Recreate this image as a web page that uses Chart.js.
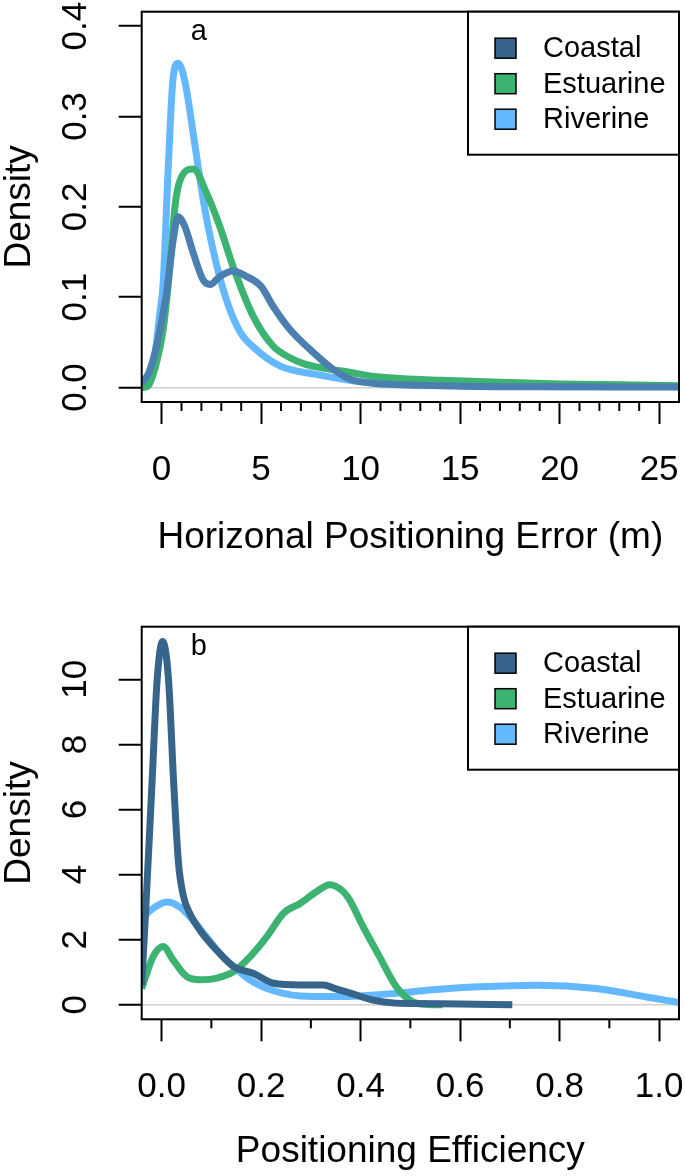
<!DOCTYPE html>
<html>
<head>
<meta charset="utf-8">
<script src="https://cdn.jsdelivr.net/npm/chart.js@4.4.1/dist/chart.umd.min.js"></script>
<style>
  body { margin: 0; background: #fff; }
  .panel { position: absolute; left: 0; }
</style>
</head>
<body>
<div class="panel" style="top:0"><canvas id="chartA" width="685" height="590"></canvas></div>
<div class="panel" style="top:590px"><canvas id="chartB" width="685" height="586"></canvas></div>
<script>
// panel a : horizontal positioning error (m)
var coastalErrX = [-1.0, -0.67, -0.4, -0.1, 0.25, 0.58, 0.83, 1.17, 1.59, 2.09, 2.43, 2.93, 3.59, 4.26, 5.0, 5.6, 6.44, 7.44, 8.6, 9.45, 10.5, 12, 14, 17, 20, 23, 26];
var coastalErrY = [0.005, 0.015, 0.033, 0.062, 0.105, 0.163, 0.189, 0.178, 0.149, 0.119, 0.114, 0.123, 0.129, 0.123, 0.112, 0.09, 0.0645, 0.0425, 0.0205, 0.0095, 0.005, 0.003, 0.002, 0.001, 0.001, 0.0005, 0.0005];
var estuarineErrX = [-1.0, -0.67, -0.25, 0.08, 0.42, 0.67, 0.92, 1.59, 2.26, 2.93, 3.59, 4.6, 5.6, 6.45, 7.2, 8.28, 9.45, 10.6, 12, 14, 17, 20, 23, 26];
var estuarineErrY = [0.0, 0.002, 0.028, 0.064, 0.134, 0.2, 0.229, 0.242, 0.215, 0.178, 0.134, 0.079, 0.046, 0.033, 0.026, 0.021, 0.017, 0.0125, 0.01, 0.008, 0.006, 0.004, 0.003, 0.002];
var riverineErrX = [-1.0, -0.7, -0.41, -0.1, 0.08, 0.33, 0.58, 0.83, 1.17, 1.59, 2.09, 2.59, 3.26, 3.93, 4.6, 5.94, 7.78, 9.78, 12, 14, 17, 20, 23, 26];
var riverineErrY = [0.001, 0.005, 0.024, 0.08, 0.116, 0.242, 0.343, 0.359, 0.339, 0.281, 0.208, 0.152, 0.097, 0.062, 0.045, 0.024, 0.0145, 0.007, 0.004, 0.003, 0.002, 0.001, 0.001, 0.001];

// panel b : positioning efficiency
var coastalEffX = [-0.04, -0.03, -0.019, -0.009, 0.002, 0.014, 0.024, 0.034, 0.044, 0.057, 0.077, 0.111, 0.145, 0.185, 0.225, 0.279, 0.326, 0.346, 0.379, 0.425, 0.47, 0.505, 0.6, 0.705];
var coastalEffY = [0.6, 3.5, 6.9, 9.98, 11.16, 9.98, 6.9, 4.35, 3.33, 2.8, 2.29, 1.67, 1.17, 0.96, 0.66, 0.61, 0.61, 0.51, 0.36, 0.14, 0.05, 0.04, 0.02, 0.0];
var estuarineEffX = [-0.04, -0.017, 0.003, 0.023, 0.05, 0.077, 0.111, 0.145, 0.178, 0.212, 0.245, 0.279, 0.312, 0.338, 0.365, 0.378, 0.405, 0.438, 0.472, 0.505, 0.535, 0.565];
var estuarineEffY = [0.5, 1.48, 1.79, 1.38, 0.87, 0.77, 0.82, 1.02, 1.48, 2.1, 2.81, 3.12, 3.48, 3.69, 3.48, 3.22, 2.4, 1.48, 0.55, 0.09, 0.01, 0.0];
var riverineEffX = [-0.04, -0.017, 0.01, 0.036, 0.063, 0.09, 0.117, 0.145, 0.178, 0.212, 0.245, 0.279, 0.346, 0.405, 0.472, 0.539, 0.639, 0.755, 0.873, 0.974, 1.04];
var riverineEffY = [2.65, 2.96, 3.16, 3.01, 2.6, 2.09, 1.58, 1.17, 0.76, 0.5, 0.35, 0.27, 0.25, 0.28, 0.35, 0.45, 0.55, 0.6, 0.5, 0.24, 0.07];

// ticks
var errTicks = [0, 5, 10, 15, 20, 25];
var errMinorTicks = [1, 2, 3, 4, 6, 7, 8, 9, 11, 12, 13, 14, 16, 17, 18, 19, 21, 22, 23, 24];
var effTicks = [0, 0.2, 0.4, 0.6, 0.8, 1.0];
var effMinorTicks = [0.1, 0.3, 0.5, 0.7, 0.9];
var densityTicksA = [0, 0.1, 0.2, 0.3, 0.4];
var densityTicksB = [0, 2, 4, 6, 8, 10];

var groups = ['Coastal', 'Estuarine', 'Riverine'];
var swatches = ['#36648B', '#3CB371', '#63B8FF'];

var FONT = "'Liberation Sans', Arial, Helvetica, sans-serif";
Chart.defaults.font.family = FONT;
Chart.defaults.color = '#000';

function pts(xs, ys) {
    return xs.map(function(x, i) { return {x: x, y: ys[i]}; });
}

// box, minor ticks, legend and panel letter, R style
var rPlot = {
    id: 'rPlot',
    afterDraw: function(chart, args, opts) {
        var ctx = chart.ctx, a = chart.chartArea, xs = chart.scales.x;
        ctx.save();
        ctx.strokeStyle = '#000';
        ctx.lineWidth = 2;
        opts.minor.forEach(function(v) {
            var px = xs.getPixelForValue(v);
            ctx.beginPath();
            ctx.moveTo(px, a.bottom);
            ctx.lineTo(px, a.bottom + 9);
            ctx.stroke();
        });
        ctx.strokeRect(a.left, a.top, a.right - a.left, a.bottom - a.top);

        // legend
        var lw = 211, lh = 143;
        var lx = a.right - lw, ly = a.top;
        ctx.fillStyle = '#fff';
        ctx.fillRect(lx, ly, lw, lh);
        ctx.strokeRect(lx, ly, lw, lh);
        ctx.font = '29px ' + FONT;
        ctx.textBaseline = 'middle';
        ctx.textAlign = 'left';
        chart.data.datasets.forEach(function(ds, i) {
            var cy = ly + 36.5 + i * 35.5;
            ctx.fillStyle = ds.swatch;
            ctx.fillRect(lx + 27, cy - 10, 21, 20);
            ctx.lineWidth = 1.5;
            ctx.strokeRect(lx + 27, cy - 10, 21, 20);
            ctx.fillStyle = '#000';
            ctx.fillText(ds.label, lx + 75, cy + 1);
        });

        ctx.textAlign = 'center';
        ctx.textBaseline = 'alphabetic';
        ctx.fillText(opts.letter, a.left + 57, a.top + 28.5);
        ctx.restore();
    }
};

function makePanel(id, cfg) {
    var H = document.getElementById(id).height;
    return new Chart(document.getElementById(id), {
        type: 'line',
        data: {
            datasets: cfg.series.map(function(s, i) {
                return {
                    label: groups[i],
                    swatch: swatches[i],
                    data: s.data,
                    borderColor: s.color,
                    borderWidth: 7,
                    pointRadius: 0,
                    cubicInterpolationMode: 'monotone',
                    fill: false,
                    clip: 0
                };
            })
        },
        options: {
            responsive: false,
            animation: false,
            devicePixelRatio: 1,
            layout: { padding: { top: cfg.top, right: 6, left: 0, bottom: 0 } },
            plugins: {
                legend: { display: false },
                tooltip: { enabled: false },
                rPlot: { minor: cfg.minor, letter: cfg.letter }
            },
            scales: {
                x: {
                    type: 'linear',
                    min: cfg.xMin, max: cfg.xMax,
                    afterBuildTicks: function(s) { s.ticks = cfg.xTicks.map(function(v) { return {value: v}; }); },
                    afterFit: function(s) { s.height = H - cfg.bottom; s.paddingLeft = 0; s.paddingRight = 0; },
                    border: { display: false },
                    grid: { drawOnChartArea: false, tickLength: 22, tickWidth: 2, tickColor: '#000' },
                    ticks: {
                        padding: 29, maxRotation: 0, autoSkip: false,
                        font: { size: 35, lineHeight: 1 },
                        callback: cfg.xFmt
                    },
                    title: {
                        display: true, text: cfg.xTitle,
                        font: { size: 37, lineHeight: 1 },
                        padding: { top: 0, bottom: cfg.titlePad }
                    }
                },
                y: {
                    min: cfg.yMin, max: cfg.yMax,
                    afterBuildTicks: function(s) { s.ticks = cfg.yTicks.map(function(v) { return {value: v}; }); },
                    afterFit: function(s) { s.width = 141.7; s.paddingTop = 0; s.paddingBottom = 0; },
                    border: { display: false },
                    grid: {
                        color: function(c) { return c.tick && c.tick.value === 0 ? '#d0d0d0' : 'rgba(0,0,0,0)'; },
                        lineWidth: 1.5,
                        tickLength: 23, tickWidth: 2, tickColor: '#000'
                    },
                    ticks: {
                        padding: cfg.yPad, minRotation: 90, maxRotation: 90, crossAlign: 'center', autoSkip: false,
                        font: { size: 35, lineHeight: 1 },
                        callback: cfg.yFmt
                    },
                    title: {
                        display: true, text: 'Density',
                        font: { size: 37, lineHeight: 1 },
                        padding: { top: 1.2, bottom: 0 }
                    }
                }
            }
        },
        plugins: [rPlot]
    });
}

makePanel('chartA', {
    series: [
        { data: pts(coastalErrX, coastalErrY), color: '#4A7FB0' },
        { data: pts(estuarineErrX, estuarineErrY), color: '#3CB371' },
        { data: pts(riverineErrX, riverineErrY), color: '#63B8FF' }
    ],
    top: 11.7, bottom: 402,
    xMin: -1, xMax: 26, yMin: -0.016, yMax: 0.416,
    xTicks: errTicks, yTicks: densityTicksA, minor: errMinorTicks,
    xFmt: function(v) { return String(v); },
    yFmt: function(v) { return v.toFixed(1); },
    yPad: 17.9, titlePad: 33.5,
    xTitle: 'Horizonal Positioning Error (m)', letter: 'a'
});

makePanel('chartB', {
    series: [
        { data: pts(coastalEffX, coastalEffY), color: '#36648B' },
        { data: pts(estuarineEffX, estuarineEffY), color: '#3CB371' },
        { data: pts(riverineEffX, riverineEffY), color: '#63B8FF' }
    ],
    top: 36.7, bottom: 429.3,
    xMin: -0.04, xMax: 1.04, yMin: -0.447, yMax: 11.617,
    xTicks: effTicks, yTicks: densityTicksB, minor: effMinorTicks,
    xFmt: function(v) { return v.toFixed(1); },
    yFmt: function(v) { return String(v); },
    yPad: 22.7, titlePad: 6,
    xTitle: 'Positioning Efficiency', letter: 'b'
});
</script>
</body>
</html>
